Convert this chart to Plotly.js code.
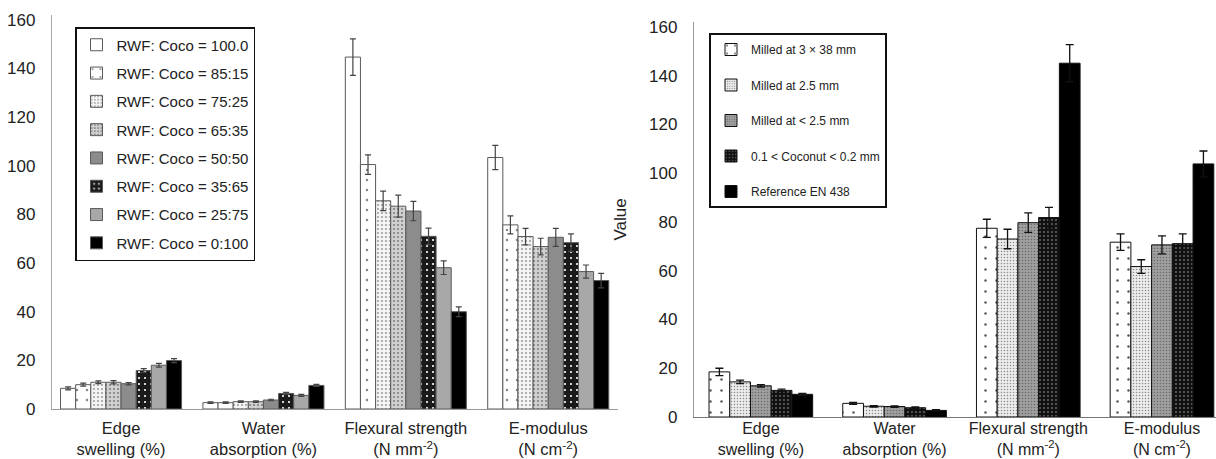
<!DOCTYPE html>
<html>
<head>
<meta charset="utf-8">
<script src="https://cdn.plot.ly/plotly-3.0.1.min.js"></script>
<style>html,body{margin:0;padding:0;background:#fff;}#chart{width:1216px;height:459px;}</style>
</head>
<body>
<div id="chart"></div>
<script>
// ---- data ----
const categories = ["Edge<br>swelling (%)", "Water<br>absorption (%)", "Flexural strength<br>(N mm<sup>-2</sup>)", "E-modulus<br>(N cm<sup>-2</sup>)"];

// left panel: RWF : Coco ratios
const leftNames = ["RWF: Coco = 100.0", "RWF: Coco = 85:15", "RWF: Coco = 75:25", "RWF: Coco = 65:35",
                   "RWF: Coco = 50:50", "RWF: Coco = 35:65", "RWF: Coco = 25:75", "RWF: Coco = 0:100"];
const rwf100  = [8.5, 2.6, 144.7, 103.4];
const rwf85   = [10.0, 2.6, 100.5, 75.7];
const rwf75   = [11.0, 3.0, 85.6, 70.9];
const rwf65   = [11.0, 3.0, 83.4, 66.8];
const rwf50   = [10.4, 3.7, 81.4, 70.6];
const rwf35   = [15.8, 6.4, 71.0, 68.4];
const rwf25   = [18.0, 5.6, 58.1, 56.5];
const rwf0    = [19.9, 9.7, 40.0, 52.8];
const err100  = [0.6, 0.3, 7.5, 5.0];
const err85   = [0.6, 0.3, 4.0, 3.7];
const err75   = [0.6, 0.3, 4.0, 3.4];
const err65   = [0.7, 0.3, 4.5, 3.4];
const err50   = [0.5, 0.3, 4.0, 3.7];
const err35   = [0.8, 0.4, 3.4, 3.6];
const err25   = [0.8, 0.4, 2.8, 2.7];
const err0    = [0.8, 0.4, 2.0, 3.0];

// right panel: particle sizes
const rightNames = ["Milled at 3 \u00d7 38 mm", "Milled at 2.5 mm", "Milled at < 2.5 mm", "0.1 < Coconut < 0.2 mm", "Reference EN 438"];
const milled3x38  = [18.5, 5.6, 77.4, 71.7];
const milled25    = [14.4, 4.4, 73.0, 61.7];
const milledLt25  = [12.8, 4.3, 79.7, 70.6];
const coconutFine = [10.9, 3.8, 81.8, 71.1];
const refEN438    = [9.3, 2.7, 145.1, 103.8];
const errM3x38  = [1.5, 0.4, 3.7, 3.4];
const errM25    = [0.7, 0.3, 4.0, 2.8];
const errMLt25  = [0.5, 0.3, 4.0, 3.7];
const errCoco   = [0.5, 0.3, 4.2, 4.0];
const errRef    = [0.4, 0.3, 7.6, 5.3];

// ---- styles ----
const leftValues = [rwf100, rwf85, rwf75, rwf65, rwf50, rwf35, rwf25, rwf0];
const leftErrors = [err100, err85, err75, err65, err50, err35, err25, err0];
const leftStyles = [
  {color: "#ffffff", pattern: null},
  {color: "#ffffff", pattern: {shape: ".", fgcolor: "#888", bgcolor: "#fff", size: 10, solidity: 0.05}},
  {color: "#f2f2f2", pattern: {shape: ".", fgcolor: "#9a9a9a", bgcolor: "#f4f4f4", size: 4, solidity: 0.2}},
  {color: "#c8c8c8", pattern: {shape: ".", fgcolor: "#808080", bgcolor: "#d0d0d0", size: 4, solidity: 0.22}},
  {color: "#8c8c8c", pattern: null},
  {color: "#1a1a1a", pattern: {shape: ".", fgcolor: "#ffffff", bgcolor: "#1a1a1a", size: 6, solidity: 0.1}},
  {color: "#a8a8a8", pattern: null},
  {color: "#000000", pattern: null}
];

const rightValues = [milled3x38, milled25, milledLt25, coconutFine, refEN438];
const rightErrors = [errM3x38, errM25, errMLt25, errCoco, errRef];
const rightStyles = [
  {color: "#ffffff", pattern: {shape: ".", fgcolor: "#555", bgcolor: "#fff", size: 11, solidity: 0.04}},
  {color: "#e0e0e0", pattern: {shape: ".", fgcolor: "#8a8a8a", bgcolor: "#ececec", size: 3, solidity: 0.2}},
  {color: "#959595", pattern: {shape: ".", fgcolor: "#6a6a6a", bgcolor: "#a0a0a0", size: 3, solidity: 0.22}},
  {color: "#111111", pattern: {shape: ".", fgcolor: "#aaaaaa", bgcolor: "#111111", size: 4, solidity: 0.12}},
  {color: "#000000", pattern: null}
];

const traces = [];
leftValues.forEach((vals, i) => {
  const st = leftStyles[i];
  const m = {color: st.color, line: {color: "#5a5a5a", width: 1}};
  if (st.pattern) m.pattern = Object.assign({fillmode: "replace"}, st.pattern);
  traces.push({
    type: "bar", x: categories, y: vals, name: leftNames[i],
    xaxis: "x", yaxis: "y", legend: "legend", legendgroup: "L" + i,
    marker: m,
    error_y: {type: "data", array: leftErrors[i], visible: true, color: "#444", thickness: 1.2, width: 3}
  });
});
const rw = 0.155;
rightValues.forEach((vals, i) => {
  const st = rightStyles[i];
  const m = {color: st.color, line: {color: "#111", width: 1}};
  if (st.pattern) m.pattern = Object.assign({fillmode: "replace"}, st.pattern);
  traces.push({
    type: "bar", x: categories, y: vals, name: rightNames[i],
    xaxis: "x2", yaxis: "y2", legend: "legend2", legendgroup: "R" + i,
    width: rw, offset: -2.5 * rw + i * rw,
    marker: m,
    error_y: {type: "data", array: rightErrors[i], visible: true, color: "#111", thickness: 1.3, width: 4}
  });
});

const W = 1216, H = 459;
const fam = "Liberation Sans, Arial, sans-serif";
const tickFont = {family: fam, size: 17, color: "#222"};
const catFont = {family: fam, size: 16.5, color: "#222"};
const catFont2 = {family: fam, size: 16, color: "#222"};

const layout = {
  width: W, height: H,
  margin: {l: 0, r: 0, t: 0, b: 0},
  paper_bgcolor: "#fff", plot_bgcolor: "#fff",
  barmode: "group", bargap: 0.15, bargroupgap: 0,
  showlegend: true,
  xaxis: {
    domain: [52 / W, 618 / W], range: [-0.485, 3.49], anchor: "y",
    showline: true, linecolor: "#999", linewidth: 1.2, showgrid: false, zeroline: false,
    ticks: "", tickfont: catFont, ticklabelstandoff: 4, automargin: false
  },
  yaxis: {
    domain: [1 - 409 / H, 1 - 15 / H], range: [0, 162], anchor: "x",
    tickvals: [0, 20, 40, 60, 80, 100, 120, 140, 160],
    showline: true, linecolor: "#aaa", linewidth: 1.2, showgrid: false, zeroline: false,
    ticks: "", tickfont: tickFont, ticklabelstandoff: 12, automargin: false
  },
  xaxis2: {
    domain: [694 / W, 1], range: [-0.5, 3.404], anchor: "y2",
    showline: true, linecolor: "#777", linewidth: 1.2, showgrid: false, zeroline: false,
    ticks: "", tickfont: catFont2, ticklabelstandoff: -3, automargin: false
  },
  yaxis2: {
    domain: [1 - 417 / H, 1 - 22 / H], range: [0, 162], anchor: "x2",
    tickvals: [0, 20, 40, 60, 80, 100, 120, 140, 160],
    showline: true, linecolor: "#999", linewidth: 1.2, showgrid: false, zeroline: false,
    ticks: "", tickfont: tickFont, ticklabelstandoff: 12, automargin: false,
    title: {text: "Value", font: {family: fam, size: 17, color: "#222"}, standoff: 18}
  },
  legend: {
    x: 75 / W, y: 1 - 27 / H, xanchor: "left", yanchor: "top",
    bgcolor: "#fff", bordercolor: "#111", borderwidth: 1.5,
    font: {family: fam, size: 15, color: "#222"},
    traceorder: "grouped", tracegroupgap: 5.8, itemwidth: 30
  },
  legend2: {
    x: 709 / W, y: 1 - 33 / H, xanchor: "left", yanchor: "top",
    bgcolor: "#fff", bordercolor: "#111", borderwidth: 2,
    font: {family: fam, size: 12, color: "#222"},
    traceorder: "grouped", tracegroupgap: 16.5, itemwidth: 30
  }
};

Plotly.newPlot("chart", traces, layout, {displayModeBar: false, staticPlot: true});
</script>
</body>
</html>
